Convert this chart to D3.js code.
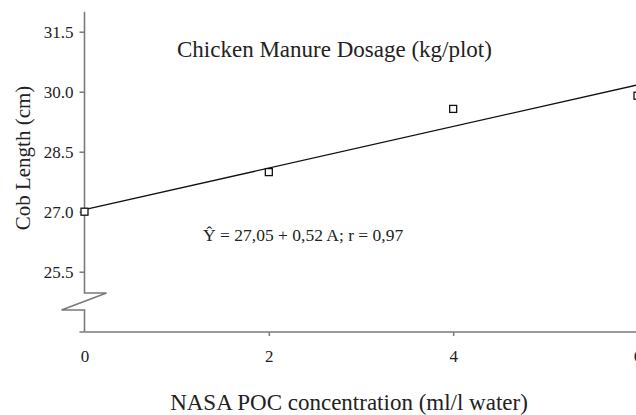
<!DOCTYPE html>
<html>
<head>
<meta charset="utf-8">
<script src="https://cdn.jsdelivr.net/npm/d3@7"></script>
<style>
  html, body { margin: 0; padding: 0; background: #fff; }
  svg { display: block; }
  text { font-family: "Liberation Serif", "Times New Roman", serif; fill: #222; }
</style>
</head>
<body>
<div id="chart"></div>
<script>
// Data
const doses = [0, 2, 4, 6];
const cobLength = [27.0, 27.99, 29.57, 29.9];
const xTicks = [0, 2, 4, 6];
const yTicks = [25.5, 27.0, 28.5, 30.0, 31.5];
const intercept = 27.05;
const slope = 0.52;
const equationLabel = 'Ŷ = 27,05 + 0,52 A; r = 0,97';

const width = 636, height = 415;
const axisColor = '#7a7a7a';
const serif = '"Liberation Serif", "Times New Roman", serif';

const svg = d3.select('#chart')
    .append('svg')
    .attr('width', width)
    .attr('height', height);

// Scales
const x = d3.scaleLinear().domain([0, 6]).range([84.5, 637.5]);
const y = d3.scaleLinear().domain([25.5, 31.5]).range([271.7, 31.7]);
const yTop = y(32);
const baseY = 332;       // broken-axis baseline
const breakTop = 293;
const breakBottom = 310;

// Y axis ticks + labels
const yAxis = svg.append('g')
    .attr('transform', `translate(${x(0)},0)`)
    .attr('font-family', serif)
    .call(d3.axisLeft(y).tickValues(yTicks).tickFormat(d3.format('.1f')).tickSize(5).tickPadding(6));
yAxis.attr('font-family', serif);
yAxis.select('.domain').remove();
yAxis.selectAll('line').attr('stroke', axisColor).attr('stroke-width', 1.5);
yAxis.selectAll('text')
    .style('font-family', serif)
    .style('font-size', '17px')
    .attr('fill', '#333');

// small tick at the baseline
svg.append('line')
    .attr('x1', x(0) - 5).attr('x2', x(0))
    .attr('y1', baseY).attr('y2', baseY)
    .attr('stroke', axisColor).attr('stroke-width', 1.5);

// Y axis line with break symbol
const x0 = x(0);
svg.append('path')
    .attr('d', `M${x0},${yTop}V${breakTop}H${x0 + 22}L${x0 - 23},${breakBottom}H${x0}V${baseY}`)
    .attr('fill', 'none')
    .attr('stroke', axisColor)
    .attr('stroke-width', 1.6);

// X axis
const xAxis = svg.append('g')
    .attr('transform', `translate(0,${baseY})`)
    .call(d3.axisBottom(x).tickValues(xTicks).tickFormat(d3.format('d')).tickSize(4).tickPadding(14));
xAxis.attr('font-family', serif);
xAxis.select('.domain').remove();
xAxis.selectAll('line').attr('stroke', axisColor).attr('stroke-width', 1.5);
xAxis.selectAll('text')
    .style('font-family', serif)
    .style('font-size', '17px')
    .attr('fill', '#333');
xAxis.selectAll('.tick').filter(d => d === 0).select('line').remove();

svg.append('line')
    .attr('x1', x0).attr('x2', width)
    .attr('y1', baseY).attr('y2', baseY)
    .attr('stroke', axisColor)
    .attr('stroke-width', 1.6);

// Regression line
const fit = d3.line()
    .x(d => x(d))
    .y(d => y(intercept + slope * d));
svg.append('path')
    .datum([0, 6])
    .attr('d', fit)
    .attr('fill', 'none')
    .attr('stroke', '#111')
    .attr('stroke-width', 1.3);

// Observed points
svg.append('g')
    .selectAll('rect')
    .data(doses.map((d, i) => ({ x: d, y: cobLength[i] })))
    .enter().append('rect')
    .attr('x', d => x(d.x) - 3.5)
    .attr('y', d => y(d.y) - 3.5)
    .attr('width', 7)
    .attr('height', 7)
    .attr('fill', '#fff')
    .attr('stroke', '#111')
    .attr('stroke-width', 1.3);

// Texts
svg.append('text')
    .attr('x', 177)
    .attr('y', 57)
    .style('font-size', '23px')
    .text('Chicken Manure Dosage (kg/plot)');

svg.append('text')
    .attr('x', 203)
    .attr('y', 241)
    .style('font-size', '17.5px')
    .text(equationLabel);

svg.append('text')
    .attr('x', 349)
    .attr('y', 410)
    .attr('text-anchor', 'middle')
    .style('font-size', '23px')
    .text('NASA POC concentration (ml/l water)');

svg.append('text')
    .attr('transform', `translate(30,${158}) rotate(-90)`)
    .attr('text-anchor', 'middle')
    .style('font-size', '21px')
    .text('Cob Length (cm)');
</script>
</body>
</html>
